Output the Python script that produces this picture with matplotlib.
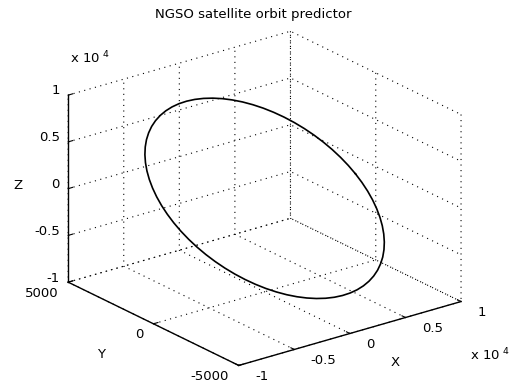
import numpy as np
import matplotlib
matplotlib.use('Agg')
import matplotlib.pyplot as plt

plt.rcParams.update({
    "font.family": "DejaVu Sans",
    "font.size": 9.5,
    "grid.color": "k",
    "grid.linewidth": 0.8,
})

# orbit samples in km (one point every 5 deg of the orbit)
orbit_x = [7790, 7760, 7672, 7525, 7320, 7060, 6746, 6381, 5967, 5508,
           5007, 4468, 3895, 3292, 2664, 2016, 1352, 679, 0,
           -679, -1352, -2016, -2664, -3292, -3895, -4468, -5007, -5508,
           -5967, -6381, -6746, -7060, -7320, -7525, -7672, -7760, -7790,
           -7760, -7672, -7525, -7320, -7060, -6746, -6381, -5967, -5508,
           -5007, -4468, -3895, -3292, -2664, -2016, -1352, -679, 0,
           679, 1352, 2016, 2664, 3292, 3895, 4468, 5007, 5508,
           5967, 6381, 6746, 7060, 7320, 7525, 7672, 7760, 7790]
orbit_y = [-250, 149, 548, 942, 1328, 1705, 2069, 2417, 2746, 3055,
           3341, 3601, 3834, 4037, 4209, 4350, 4459, 4532, 4571,
           4576, 4545, 4480, 4381, 4249, 4084, 3887, 3663, 3409,
           3130, 2827, 2503, 2159, 1798, 1424, 1040, 647, 250,
           -149, -548, -942, -1328, -1705, -2069, -2417, -2746, -3055,
           -3341, -3601, -3834, -4037, -4209, -4350, -4459, -4532, -4571,
           -4576, -4545, -4480, -4381, -4249, -4084, -3887, -3663, -3409,
           -3130, -2827, -2503, -2159, -1798, -1424, -1040, -647, -250]
orbit_z = [180, 730, 1274, 1809, 2330, 2833, 3315, 3771, 4199, 4594,
           4956, 5278, 5562, 5802, 5999, 6150, 6253, 6310, 6318,
           6278, 6191, 6056, 5875, 5650, 5382, 5072, 4724, 4340,
           3923, 3477, 3003, 2507, 1992, 1461, 920, 372, -180,
           -730, -1274, -1809, -2330, -2833, -3315, -3771, -4199, -4594,
           -4956, -5278, -5562, -5802, -5999, -6150, -6253, -6310, -6318,
           -6278, -6191, -6056, -5875, -5650, -5382, -5072, -4724, -4340,
           -3923, -3477, -3003, -2507, -1992, -1461, -920, -372, 180]

x_ticks = [-1e4, -5e3, 0, 5e3, 1e4]
x_tick_labels = ['-1', '-0.5', '0', '0.5', '1']
y_ticks = [-5000, 0, 5000]
y_tick_labels = ['-5000', '0', '5000']
z_ticks = [-1e4, -5e3, 0, 5e3, 1e4]
z_tick_labels = ['-1', '-0.5', '0', '0.5', '1']


def make_orbit_plot():
    fig = plt.figure(figsize=(5.31, 3.82), dpi=100)
    ax = fig.add_axes([-0.0114, -0.0327, 1, 1], projection='3d')
    ax.set_proj_type('ortho')
    ax.view_init(elev=22, azim=-127.5)
    ax.set_box_aspect((1, 1, 0.72), zoom=1.13)

    ax.plot(orbit_x, orbit_y, orbit_z, color='k', linewidth=1.2)

    ax.set_xlim(-1e4, 1e4)
    ax.set_ylim(-5000, 5000)
    ax.set_zlim(-1e4, 1e4)
    ax.set_xticks(x_ticks)
    ax.set_yticks(y_ticks)
    ax.set_zticks(z_ticks)
    # matlab-like label placement, done by hand below
    ax.xaxis.set_ticklabels([])
    ax.yaxis.set_ticklabels([])
    ax.zaxis.set_ticklabels([])

    for axis in (ax.xaxis, ax.yaxis, ax.zaxis):
        axis.set_pane_color((1, 1, 1, 0))
        axis.line.set_color('k')
        axis.line.set_linewidth(1.0)
        axis._axinfo['grid'].update(color='k', linestyle=(0, (1, 4)), linewidth=0.8)
        axis._axinfo['tick'].update(inward_factor=0.0, outward_factor=0.25)

    x0, x1 = ax.get_xlim()
    y0, y1 = ax.get_ylim()
    z0, z1 = ax.get_zlim()
    for t, lab in zip(x_ticks, x_tick_labels):
        ax.text(t, y0 - 950, z0 - 300, lab, ha='left', va='center')
    for t, lab in zip(y_ticks, y_tick_labels):
        ax.text(x0 - 900, t, z0 - 860, lab, ha='right', va='center')
    for t, lab in zip(z_ticks, z_tick_labels):
        ax.text(x0, y1 + 500, t, lab, ha='right', va='center')

    ax.text(0, y0 - 2650, z0 - 720, 'X', ha='center', va='center')
    ax.text(x0 - 4730, 0, z0 - 1620, 'Y', ha='center', va='center')
    ax.text(x0, y1 + 2940, -2290, 'Z', ha='center', va='center')

    fig.text(0.477, 0.963, 'NGSO satellite orbit predictor', ha='center', va='center')
    fig.text(0.132, 0.833, r'x 10$^{\ 4}$')
    fig.text(0.885, 0.058, r'x 10$^{\ 4}$')

    fig.savefig('out.png', dpi=100)


def main():
    make_orbit_plot()


if __name__ == "__main__":
    main()
